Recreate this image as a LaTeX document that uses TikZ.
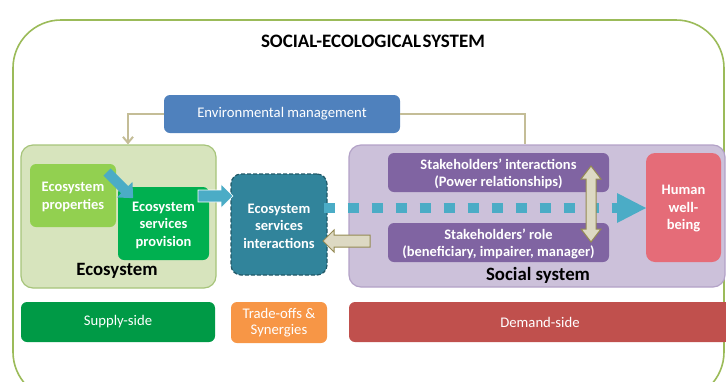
\documentclass[tikz,border=0pt]{standalone}
\usepackage{fontspec}
\setmainfont{Carlito}
\usetikzlibrary{arrows.meta}
\definecolor{outerg}{HTML}{9BBB59}
\definecolor{ecofill}{HTML}{D7E4BD}
\definecolor{ecodraw}{HTML}{A6C47A}
\definecolor{propfill}{HTML}{92D050}
\definecolor{provfill}{HTML}{00B050}
\definecolor{interfill}{HTML}{31849B}
\definecolor{interdraw}{HTML}{215968}
\definecolor{envfill}{HTML}{4F81BD}
\definecolor{tanfill}{HTML}{DDD9C3}
\definecolor{tandraw}{HTML}{948A54}
\definecolor{tanline}{HTML}{C4BD97}
\definecolor{flowblue}{HTML}{4BACC6}
\definecolor{socfill}{HTML}{CCC1DA}
\definecolor{socdraw}{HTML}{B3A2C7}
\definecolor{stakefill}{HTML}{8064A2}
\definecolor{humanfill}{HTML}{E56C78}
\definecolor{supplyfill}{HTML}{009A46}
\definecolor{tradefill}{HTML}{F79646}
\definecolor{demandfill}{HTML}{C0504D}
\tikzset{
  pics/barrow/.style args={#1/#2/#3/#4}{code={
    \path[pic actions] (0,-#2) -- (#1-#4,-#2) -- (#1-#4,-#3) -- (#1,0) -- (#1-#4,#3) -- (#1-#4,#2) -- (0,#2) -- cycle;}},
  pics/dbarrow/.style args={#1/#2/#3/#4}{code={
    \path[pic actions] (0,0) -- (#4,-#3) -- (#4,-#2) -- (#1-#4,-#2) -- (#1-#4,-#3) -- (#1,0) -- (#1-#4,#3) -- (#1-#4,#2) -- (#4,#2) -- (#4,#3) -- cycle;}},
  rbox/.style={rounded corners=6pt, inner sep=0pt, align=center, text=white},
  boldtxt/.style={font=\fontsize{14.5}{17.5}\selectfont\bfseries},
  plaintxt/.style={font=\fontsize{14.7}{16.5}\selectfont},
  bigtxt/.style={font=\fontsize{18.8}{20}\selectfont\bfseries},
  tanconn/.style={draw=tanline, line width=2pt},
}
\begin{document}
\begin{tikzpicture}[x=1pt,y=-1pt]
\useasboundingbox (0,0) rectangle (726,381);
\clip (0,0) rectangle (726,381);
% outer frame
\draw[outerg, line width=1.6pt, rounded corners=48pt] (13,20) rectangle (724,400);
\node[font=\fontsize{19}{20}\selectfont\bfseries] (title) at (373,41) {SOCIAL-ECOLOGICAL\hspace{1.5pt}SYSTEM};

% environmental management
\node[rbox, fill=envfill, plaintxt, minimum width=236pt, minimum height=38pt] (env) at (282,114) {Environmental management};

% ecosystem
\node[rbox, rounded corners=12pt, fill=ecofill, draw=ecodraw, line width=1.2pt, minimum width=195pt, minimum height=143pt] (eco) at (118.5,216.5) {};
\node[bigtxt] (ecolab) at (117,271) {Ecosystem};
\node[rbox, fill=propfill, boldtxt, minimum width=86pt, minimum height=63pt] (prop) at (73,195.5) {};
\node[boldtxt, text=white, align=center] (proptxt) at (73,197) {Ecosystem\\properties};
\node[rbox, fill=provfill, boldtxt, minimum width=91pt, minimum height=73pt] (prov) at (163.5,223.5) {};
\node[boldtxt, text=white, align=center] (provtxt) at (163.5,225) {Ecosystem\\services\\provision};

% social system
\node[rbox, rounded corners=12pt, fill=socfill, draw=socdraw, line width=1.2pt, minimum width=376pt, minimum height=142pt] (soc) at (537,216) {};
\node[bigtxt] (soclab) at (538,275) {Social system};
\node[rbox, fill=stakefill, minimum width=221pt, minimum height=39pt] (sint) at (498.5,172.5) {};
\node[boldtxt, text=white, align=center] (sinttxt) at (498.5,174) {Stakeholders’ interactions\\(Power relationships)};
\node[rbox, fill=stakefill, minimum width=221pt, minimum height=39pt] (srole) at (498.5,242.5) {};
\node[boldtxt, text=white, align=center] (sroletxt) at (498.5,244) {Stakeholders’ role\\(beneficiary, impairer, manager)};
\node[rbox, rounded corners=9pt, fill=humanfill, minimum width=75pt, minimum height=109pt] (human) at (683.5,207.5) {};
\node[boldtxt, text=white, align=center] (humantxt) at (683.5,209) {Human\\well-\\being};

% interactions
\node[rbox, rounded corners=10pt, fill=interfill, draw=interdraw, line width=1.2pt, dashed, dash pattern=on 4pt off 2pt, minimum width=96pt, minimum height=101pt] (inter) at (279,224.5) {};
\node[boldtxt, text=white, align=center] (intertxt) at (279,226) {Ecosystem\\services\\interactions};

% bottom bars
\node[rbox, fill=supplyfill, plaintxt, minimum width=194pt, minimum height=40pt] (supply) at (118,322) {Supply-side};
\node[rbox, fill=tradefill, plaintxt, minimum width=96pt, minimum height=41pt] (trade) at (279,322.5) {Trade-offs \&\\Synergies};
\node[rbox, fill=demandfill, plaintxt, minimum width=382pt, minimum height=40pt] (demand) at (540,322) {Demand-side};

% env management connectors
\coordinate (lcorner) at (128,114);
\coordinate (rcorner) at (525,114);
\draw[tanconn, -{Straight Barb[length=6pt,width=10pt,line width=2pt]}] (env.west) -- (lcorner) -- (lcorner |- eco.north);
\draw[tanconn] (env.east) -- (rcorner) -- (rcorner |- soc.north);

% flow arrows
\pic[fill=flowblue, rotate=-45] at (107,172) {barrow=37/5/11/12};
\pic[fill=flowblue, draw=white, line width=0.6pt] at (198,196) {barrow=35/6/12/12};
\coordinate (dotend) at (617,208);
\draw[flowblue, line width=10pt, dash pattern=on 11pt off 13pt] (inter.east |- dotend) ++(-4,0) -- (dotend);
\fill[flowblue] (617,193) -- (646,208) -- (617,223) -- cycle;

% feedback arrow
\pic[fill=tanfill, draw=tandraw, line width=1pt, rotate=180] at (370,241) {barrow=47/6/11/11};
% double arrow
\pic[fill=tanfill, draw=tandraw, line width=1pt, rotate=-90] at (591,166) {dbarrow=76/5/10/13};
\end{tikzpicture}
\end{document}
